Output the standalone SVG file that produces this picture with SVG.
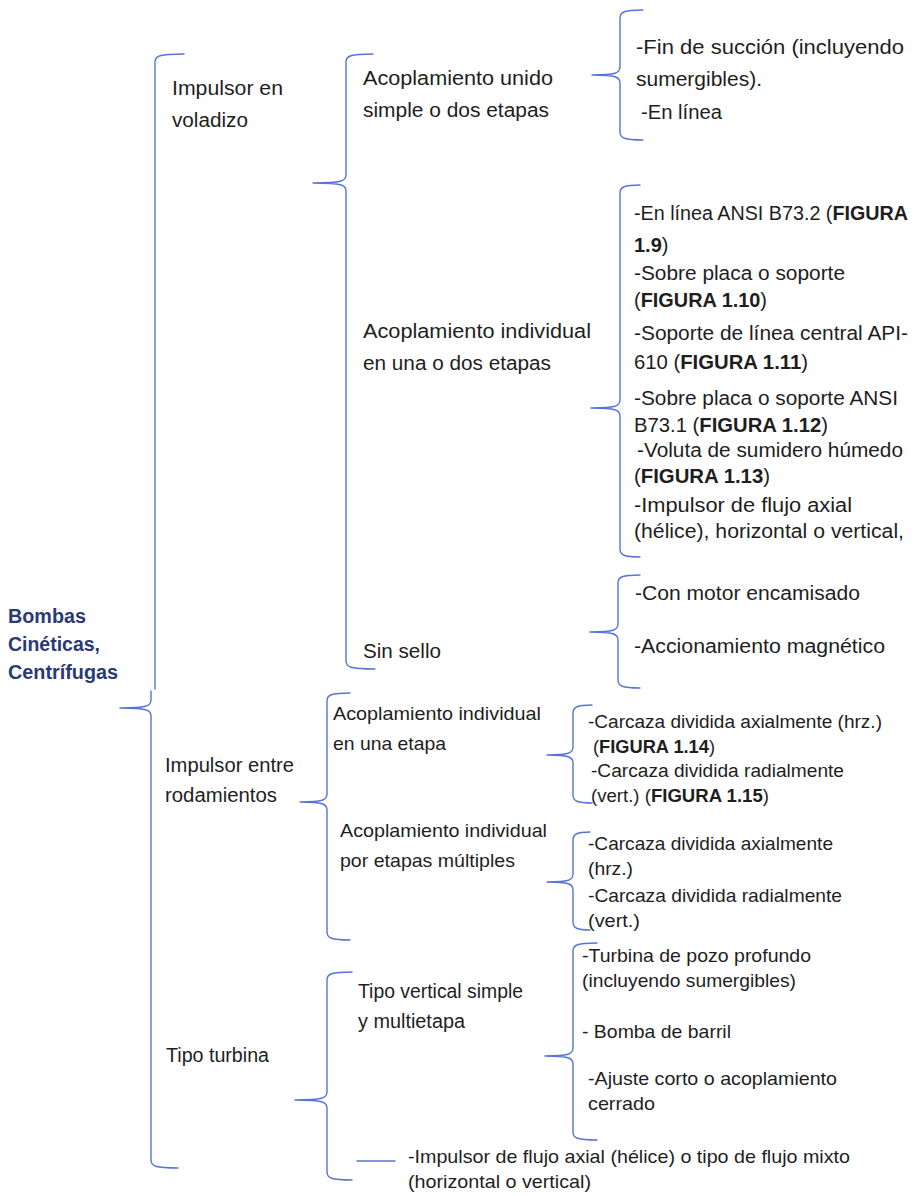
<svg xmlns="http://www.w3.org/2000/svg" width="919" height="1196" viewBox="0 0 919 1196">
<style>
.t{font-family:"Liberation Sans",Arial,sans-serif;font-size:20px;fill:#1e1e1e}
.s{font-size:19px}
.xs{font-size:18px}
.b{font-weight:bold}
.root{font-family:"Liberation Sans",Arial,sans-serif;font-size:19.5px;font-weight:bold;fill:#2b3a73}
.br{fill:none;stroke:#5874d6;stroke-width:1.4;stroke-linecap:round}
</style>
<rect width="919" height="1196" fill="#ffffff"/>
<g id="connectors">
<path class="br" d="M184,54 C159,54 155,56 155,62 L155,689 M151,691 L151,700 C151,706 147,708 120,708 M120,708 C147,708 151,710 151,716 L151,1160 C151,1166 155,1168 178,1168"/>
<path class="br" d="M373,54 C350,54 346,56 346,62 L346,175 C346,181 342,183 313,183 M313,183 C342,183 346,185 346,191 L346,661 C346,667 350,669 375,669"/>
<path class="br" d="M643,10 C624,10 620,12 620,18 L620,67 C620,73 616,75 592,75 M592,75 C616,75 620,77 620,83 L620,132 C620,138 624,140 643,140"/>
<path class="br" d="M640,185 C624,185 620,187 620,193 L620,400 C620,406 616,408 591,408 M591,408 C616,408 620,410 620,416 L620,549 C620,555 624,557 640,557"/>
<path class="br" d="M640,575 C622,575 618,577 618,583 L618,624 C618,630 614,632 590,632 M590,632 C614,632 618,634 618,640 L618,680 C618,686 622,688 640,688"/>
<path class="br" d="M350,693 C331,693 327,695 327,701 L327,794 C327,800 323,802 300,802 M300,802 C323,802 327,804 327,810 L327,932 C327,938 331,940 350,940"/>
<path class="br" d="M592,705 C577,705 573,707 573,713 L573,747 C573,753 569,755 547,755 M547,755 C569,755 573,757 573,763 L573,795 C573,801 577,803 592,803"/>
<path class="br" d="M590,832 C577,832 573,834 573,840 L573,874 C573,880 569,882 547,882 M547,882 C569,882 573,884 573,890 L573,922 C573,928 577,930 590,930"/>
<path class="br" d="M352,972 C331,972 327,974 327,980 L327,1092 C327,1098 323,1100 295,1100 M295,1100 C323,1100 327,1102 327,1108 L327,1172 C327,1178 331,1180 352,1180"/>
<path class="br" d="M597,943 C577,943 573,945 573,951 L573,1048 C573,1054 569,1056 545,1056 M545,1056 C569,1056 573,1058 573,1064 L573,1132 C573,1138 577,1140 597,1140"/>
<path class="br" d="M357,1161 L395,1161"/>
</g>
<g id="root">
<text class="root" x="8" y="623" textLength="78" lengthAdjust="spacingAndGlyphs">Bombas</text>
<text class="root" x="8" y="651" textLength="92" lengthAdjust="spacingAndGlyphs">Cinéticas,</text>
<text class="root" x="8" y="679" textLength="110" lengthAdjust="spacingAndGlyphs">Centrífugas</text>
</g>
<g id="voladizo">
<text class="t" x="172" y="95" textLength="111" lengthAdjust="spacingAndGlyphs">Impulsor en</text>
<text class="t" x="172" y="127" textLength="76" lengthAdjust="spacingAndGlyphs">voladizo</text>
</g>
<g id="acop-unido">
<text class="t" x="363" y="85" textLength="190" lengthAdjust="spacingAndGlyphs">Acoplamiento unido</text>
<text class="t" x="363" y="117" textLength="186" lengthAdjust="spacingAndGlyphs">simple o dos etapas</text>
</g>
<g id="acop-unido-items">
<text class="t" x="636" y="54" textLength="268" lengthAdjust="spacingAndGlyphs">-Fin de succión (incluyendo</text>
<text class="t" x="636" y="86" textLength="126" lengthAdjust="spacingAndGlyphs">sumergibles).</text>
<text class="t" x="641" y="119" textLength="81" lengthAdjust="spacingAndGlyphs">-En línea</text>
</g>
<g id="acop-individual">
<text class="t" x="363" y="338" textLength="228" lengthAdjust="spacingAndGlyphs">Acoplamiento individual</text>
<text class="t" x="363" y="370" textLength="188" lengthAdjust="spacingAndGlyphs">en una o dos etapas</text>
</g>
<g id="acop-individual-items">
<text class="t" x="634" y="220" textLength="274" lengthAdjust="spacingAndGlyphs">-En línea ANSI B73.2 (<tspan class="b">FIGURA</tspan></text>
<text class="t" x="634" y="252"><tspan class="b">1.9</tspan>)</text>
<text class="t" x="634" y="280" textLength="211" lengthAdjust="spacingAndGlyphs">-Sobre placa o soporte</text>
<text class="t" x="634" y="307" textLength="133" lengthAdjust="spacingAndGlyphs">(<tspan class="b">FIGURA 1.10</tspan>)</text>
<text class="t" x="634" y="340" textLength="274" lengthAdjust="spacingAndGlyphs">-Soporte de línea central API-</text>
<text class="t" x="634" y="369" textLength="174" lengthAdjust="spacingAndGlyphs">610 (<tspan class="b">FIGURA 1.11</tspan>)</text>
<text class="t" x="634" y="405" textLength="264" lengthAdjust="spacingAndGlyphs">-Sobre placa o soporte ANSI</text>
<text class="t" x="634" y="432" textLength="194" lengthAdjust="spacingAndGlyphs">B73.1 (<tspan class="b">FIGURA 1.12</tspan>)</text>
<text class="t" x="637" y="457" textLength="266" lengthAdjust="spacingAndGlyphs">-Voluta de sumidero húmedo</text>
<text class="t" x="634" y="483" textLength="136" lengthAdjust="spacingAndGlyphs">(<tspan class="b">FIGURA 1.13</tspan>)</text>
<text class="t" x="634" y="512" textLength="218" lengthAdjust="spacingAndGlyphs">-Impulsor de flujo axial</text>
<text class="t" x="634" y="538" textLength="270" lengthAdjust="spacingAndGlyphs">(hélice), horizontal o vertical,</text>
</g>
<g id="sin-sello">
<text class="t" x="363" y="658" textLength="78" lengthAdjust="spacingAndGlyphs">Sin sello</text>
</g>
<g id="sin-sello-items">
<text class="t" x="635" y="600" textLength="225" lengthAdjust="spacingAndGlyphs">-Con motor encamisado</text>
<text class="t" x="634" y="653" textLength="251" lengthAdjust="spacingAndGlyphs">-Accionamiento magnético</text>
</g>
<g id="rodamientos">
<text class="t" x="165" y="772" textLength="129" lengthAdjust="spacingAndGlyphs">Impulsor entre</text>
<text class="t" x="165" y="802" textLength="112" lengthAdjust="spacingAndGlyphs">rodamientos</text>
</g>
<g id="acop-una-etapa">
<text class="t s" x="333" y="720" textLength="208" lengthAdjust="spacingAndGlyphs">Acoplamiento individual</text>
<text class="t s" x="333" y="750" textLength="113" lengthAdjust="spacingAndGlyphs">en una etapa</text>
</g>
<g id="acop-una-etapa-items">
<text class="t xs" x="588" y="728" textLength="294" lengthAdjust="spacingAndGlyphs">-Carcaza dividida axialmente (hrz.)</text>
<text class="t xs" x="593" y="753" textLength="122" lengthAdjust="spacingAndGlyphs">(<tspan class="b">FIGURA 1.14</tspan>)</text>
<text class="t xs" x="591" y="777" textLength="253" lengthAdjust="spacingAndGlyphs">-Carcaza dividida radialmente</text>
<text class="t xs" x="591" y="802" textLength="178" lengthAdjust="spacingAndGlyphs">(vert.) (<tspan class="b">FIGURA 1.15</tspan>)</text>
</g>
<g id="acop-multiples">
<text class="t s" x="340" y="837" textLength="207" lengthAdjust="spacingAndGlyphs">Acoplamiento individual</text>
<text class="t s" x="340" y="867" textLength="175" lengthAdjust="spacingAndGlyphs">por etapas múltiples</text>
</g>
<g id="acop-multiples-items">
<text class="t s" x="588" y="850" textLength="245" lengthAdjust="spacingAndGlyphs">-Carcaza dividida axialmente</text>
<text class="t s" x="588" y="875" textLength="45" lengthAdjust="spacingAndGlyphs">(hrz.)</text>
<text class="t s" x="588" y="902" textLength="254" lengthAdjust="spacingAndGlyphs">-Carcaza dividida radialmente</text>
<text class="t s" x="588" y="927" textLength="52" lengthAdjust="spacingAndGlyphs">(vert.)</text>
</g>
<g id="turbina">
<text class="t" x="166" y="1062" textLength="103" lengthAdjust="spacingAndGlyphs">Tipo turbina</text>
</g>
<g id="vertical">
<text class="t" x="358" y="998" textLength="165" lengthAdjust="spacingAndGlyphs">Tipo vertical simple</text>
<text class="t" x="358" y="1028" textLength="107" lengthAdjust="spacingAndGlyphs">y multietapa</text>
</g>
<g id="vertical-items">
<text class="t s" x="582" y="962" textLength="229" lengthAdjust="spacingAndGlyphs">-Turbina de pozo profundo</text>
<text class="t s" x="582" y="987" textLength="214" lengthAdjust="spacingAndGlyphs">(incluyendo sumergibles)</text>
<text class="t s" x="582" y="1038" textLength="149" lengthAdjust="spacingAndGlyphs">- Bomba de barril</text>
<text class="t s" x="588" y="1085" textLength="249" lengthAdjust="spacingAndGlyphs">-Ajuste corto o acoplamiento</text>
<text class="t s" x="588" y="1110" textLength="67" lengthAdjust="spacingAndGlyphs">cerrado</text>
</g>
<g id="flujo-axial">
<text class="t s" x="408" y="1163" textLength="442" lengthAdjust="spacingAndGlyphs">-Impulsor de flujo axial (hélice) o tipo de flujo mixto</text>
<text class="t s" x="408" y="1188" textLength="183" lengthAdjust="spacingAndGlyphs">(horizontal o vertical)</text>
</g>
</svg>
